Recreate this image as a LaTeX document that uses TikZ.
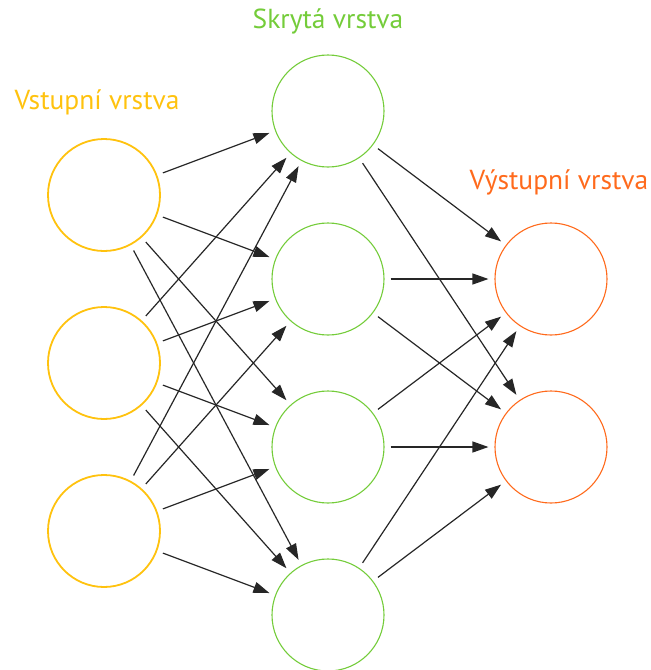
\documentclass[tikz,border=0pt]{standalone}
\usepackage{fontspec}
\setsansfont{PT Sans}
\usetikzlibrary{arrows.meta}
\definecolor{vstupbarva}{HTML}{FFC20E}
\definecolor{skrytabarva}{HTML}{74CC3A}
\definecolor{vystupbarva}{HTML}{FF6A1C}
\tikzset{
  neuron/.style={circle,draw,minimum size=112pt,inner sep=0pt},
  spoj/.style={->,draw=black!85,line width=1.2pt,shorten <=6pt,shorten >=6pt},
  popis/.style={font=\sffamily\fontsize{27.5}{32}\selectfont}
}
\begin{document}
\begin{tikzpicture}[>={Triangle[length=16pt,width=11pt]},x=1pt,y=-1pt,line join=round]
			\useasboundingbox (0,0) rectangle (651,670);
			\foreach \i in {1,2,3}
			\node[neuron,draw=vstupbarva,line width=1.8pt] (I\i) at (104,{27+168*\i}) {};
			\foreach \j in {1,2,3,4}
			\node[neuron,draw=skrytabarva,line width=1.1pt] (H\j) at (328,{-57+168*\j}) {};
			\foreach \k in {1,2}
			\node[neuron,draw=vystupbarva,line width=1.1pt] (O\k) at (551,{111+168*\k}) {};
			\foreach \i in {1,2,3}
			\foreach \j in {1,2,3,4}
			\draw[spoj] (I\i) -- (H\j);
			\foreach \j in {1,2,3,4}
			\foreach \k in {1,2}
			\draw[spoj] (H\j) -- (O\k);
			\node[popis,text=vstupbarva] (Lvstup) at (97,102) {Vstupní vrstva};
			\node[popis,text=skrytabarva] (Lskryta) at (328,21) {Skrytá vrstva};
			\node[popis,text=vystupbarva] (Lvystup) at (559,182) {Výstupní vrstva};
\end{tikzpicture}
\end{document}
